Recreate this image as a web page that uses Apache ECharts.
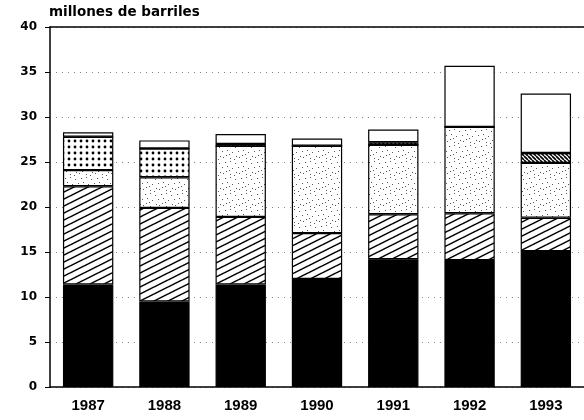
<!DOCTYPE html>
<html><head><meta charset="utf-8">
<script src="https://cdn.jsdelivr.net/npm/echarts@6/dist/echarts.min.js"></script>
<style>html,body{margin:0;padding:0;background:#fff}#c{width:584px;height:420px}</style>
</head><body><div id="c"></div>
<script>
const years = ['1987','1988','1989','1990','1991','1992','1993'];
const solidBlack   = [11.4, 9.5, 11.4, 12.0, 14.2, 14.1, 15.1];
const hatched      = [10.9, 10.4, 7.5, 5.1, 5.0, 5.2, 3.7];
const lightDots    = [1.8, 3.4, 7.9, 9.7, 7.7, 9.6, 6.1];
const denseDots    = [3.7, 3.2, 0, 0, 0, 0, 0];
const heavyHatch   = [0, 0, 0.2, 0, 0.3, 0, 1.1];
const blank        = [0.5, 0.9, 1.1, 0.8, 1.4, 6.8, 6.6];
const yTicks = [0, 5, 10, 15, 20, 25, 30, 35, 40];

function tile(w, h, draw) {
  const c = document.createElement('canvas');
  c.width = w; c.height = h;
  const g = c.getContext('2d');
  g.fillStyle = '#fff'; g.fillRect(0, 0, w, h);
  draw(g, w, h);
  return c;
}
const hatchTile = tile(14, 7, (g, w, h) => {
  g.strokeStyle = '#000'; g.lineWidth = 1.5;
  for (const dy of [-h, 0, h]) {
    g.beginPath(); g.moveTo(0, h + dy); g.lineTo(w, dy); g.stroke();
  }
});
const heavyTile = tile(4, 4, (g, w, h) => {
  g.strokeStyle = '#000'; g.lineWidth = 1.6;
  for (const dx of [-w, 0, w]) {
    g.beginPath(); g.moveTo(dx, 0); g.lineTo(dx + w, h); g.stroke();
  }
});
const denseTile = tile(6, 6, (g) => {
  g.fillStyle = '#000';
  g.beginPath(); g.arc(3, 3, 1.4, 0, Math.PI * 2); g.fill();
});
const lightTile = tile(16, 16, (g) => {
  g.fillStyle = '#555';
  const pts = [[1,2],[6,1],[11,3],[14,7],[3,6],[8,8],[12,12],[2,11],[6,14],[10,15],[15,13],[5,10]];
  pts.forEach(p => g.fillRect(p[0], p[1], 1, 1));
});

const wide = '"DejaVu Sans", sans-serif';
const narrow = '"Liberation Sans", Arial, sans-serif';
const border = { borderColor: '#000', borderWidth: 1.2 };
function s(name, data, color) {
  return {
    name, type: 'bar', stack: 'a', data, barWidth: '66%', xAxisIndex: 0,
    itemStyle: Object.assign({ color }, border),
    emphasis: { disabled: true }
  };
}
const chart = echarts.init(document.getElementById('c'));
chart.setOption({
  animation: false,
  grid: { left: 50, right: -10, top: 27, bottom: 33 },
  graphic: [{ type: 'text', left: 49, top: 5,
    style: { text: 'millones de barriles', font: 'bold 13.5px ' + wide, fill: '#000' } }],
  xAxis: [{
    type: 'category', data: years,
    axisLine: { lineStyle: { color: '#000', width: 1.5 } },
    axisTick: { alignWithLabel: true, length: 3, lineStyle: { color: '#000' } },
    axisLabel: { color: '#000', fontWeight: 'bold', fontSize: 15, fontFamily: narrow, margin: 11 }
  }, {
    type: 'category', data: years, position: 'top',
    axisLine: { show: true, lineStyle: { color: '#000', width: 1.5 } },
    axisTick: { show: false }, axisLabel: { show: false }
  }],
  yAxis: {
    type: 'value', min: 0, max: 40, interval: 5,
    axisLine: { show: true, lineStyle: { color: '#000', width: 1.5 } },
    axisTick: { show: true, length: 5, lineStyle: { color: '#000' } },
    axisLabel: { color: '#000', fontWeight: 'bold', fontSize: 12, fontFamily: wide, margin: 13,
      formatter: v => yTicks.includes(v) ? String(v) : '' },
    splitLine: { show: true, lineStyle: { color: '#888', type: [1, 5], width: 1 } }
  },
  series: [
    s('negro', solidBlack, '#000'),
    s('rayado', hatched, { image: hatchTile, repeat: 'repeat' }),
    s('punteado', lightDots, { image: lightTile, repeat: 'repeat' }),
    s('puntos', denseDots, { image: denseTile, repeat: 'repeat' }),
    s('rayado2', heavyHatch, { image: heavyTile, repeat: 'repeat' }),
    s('blanco', blank, '#fff')
  ]
});
</script></body></html>
